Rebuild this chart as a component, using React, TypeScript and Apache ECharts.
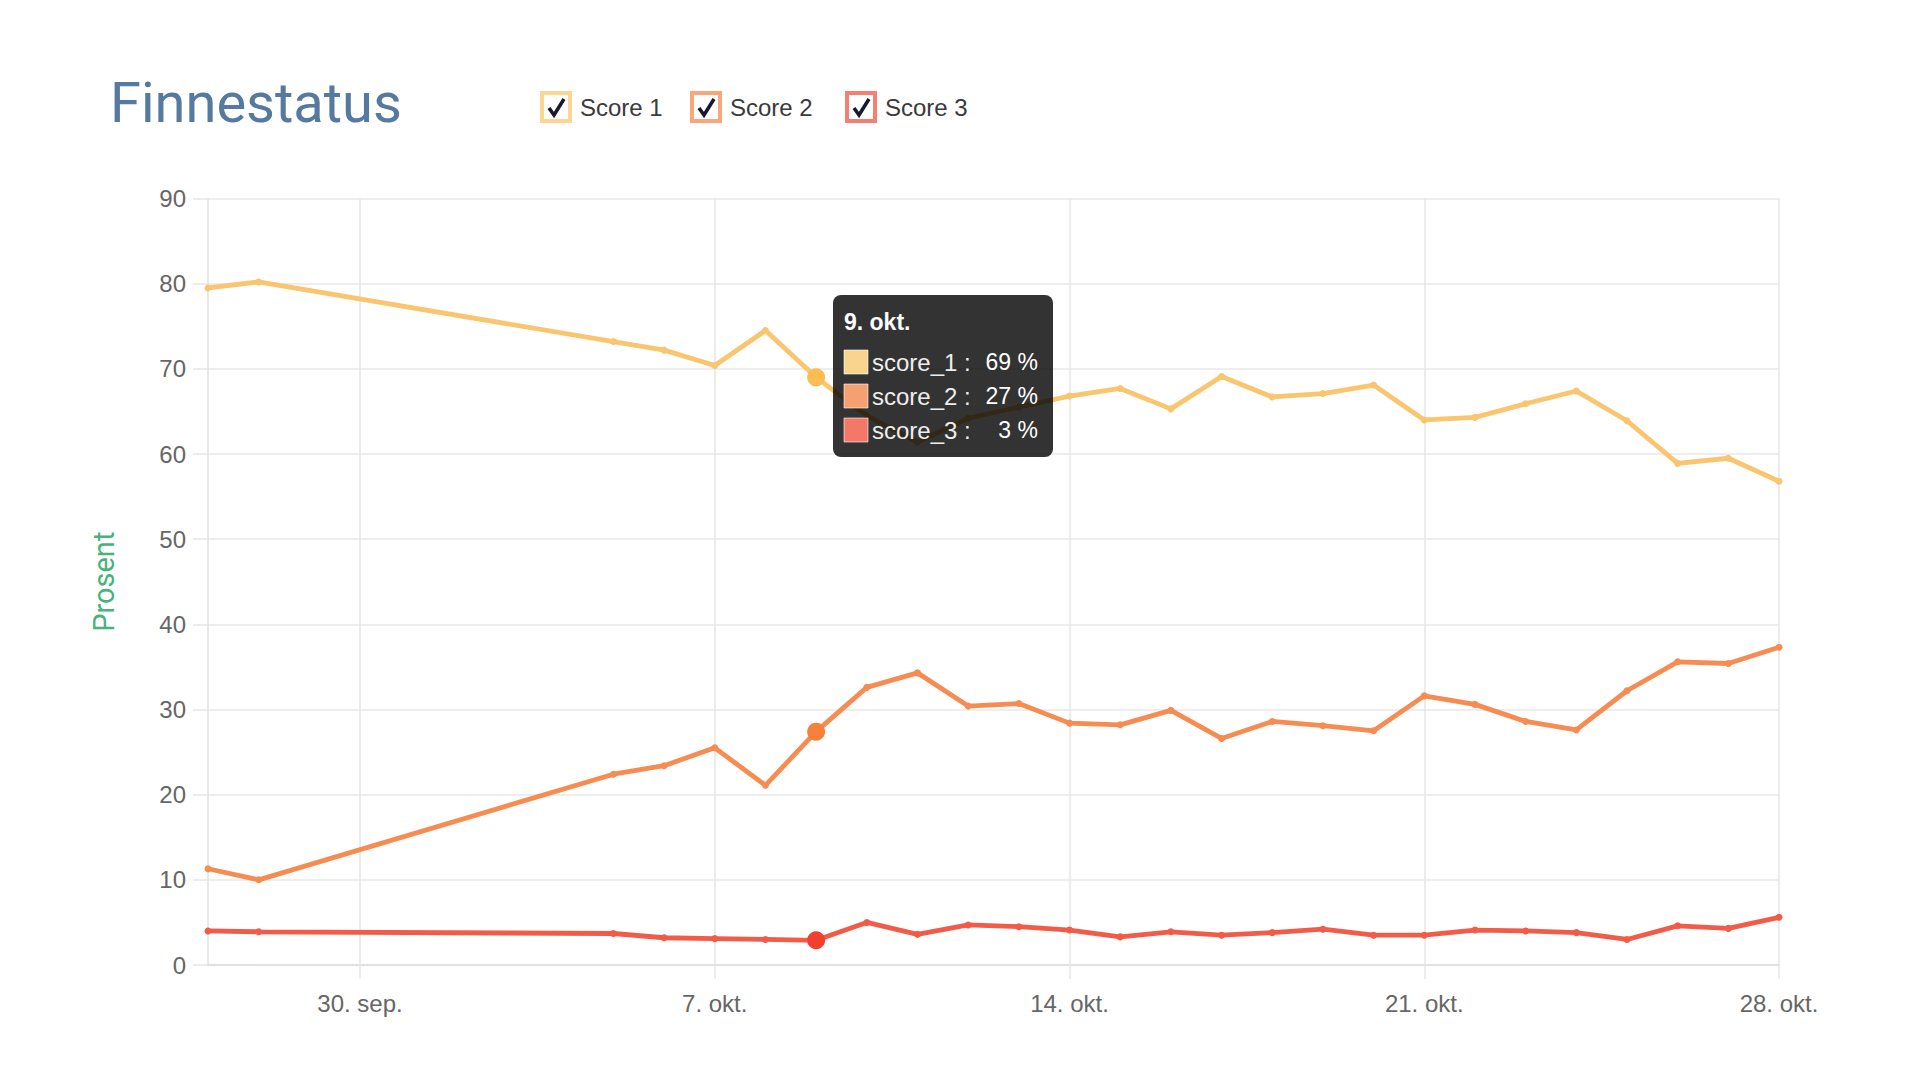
import React, { useEffect, useRef } from 'react';
import * as echarts from 'echarts';

// Dates on the category axis (27. sep. – 28. okt.)
const categories = [
  '27. sep.', '28. sep.', '29. sep.', '30. sep.',
  '1. okt.', '2. okt.', '3. okt.', '4. okt.', '5. okt.', '6. okt.', '7. okt.',
  '8. okt.', '9. okt.', '10. okt.', '11. okt.', '12. okt.', '13. okt.', '14. okt.',
  '15. okt.', '16. okt.', '17. okt.', '18. okt.', '19. okt.', '20. okt.', '21. okt.',
  '22. okt.', '23. okt.', '24. okt.', '25. okt.', '26. okt.', '27. okt.', '28. okt.',
];

// Tick labels shown on the x axis (weekly, Mondays)
const tickLabels = ['30. sep.', '7. okt.', '14. okt.', '21. okt.', '28. okt.'];

const seriesNames = ['Score 1', 'Score 2', 'Score 3'];
const tooltipNames = ['score_1', 'score_2', 'score_3'];

const score1 = [79.5, 80.2, null, null, null, null, null, null,
  73.2, 72.2, 70.4, 74.5, 69.0, 64.5, 61.4, 64.2, 65.5, 66.8, 67.7, 65.3, 69.1, 66.7,
  67.1, 68.1, 64.0, 64.3, 65.9, 67.4, 63.9, 58.9, 59.5, 56.8];
const score2 = [11.3, 10.0, null, null, null, null, null, null,
  22.4, 23.4, 25.5, 21.1, 27.4, 32.6, 34.3, 30.4, 30.7, 28.4, 28.2, 29.9, 26.6, 28.6,
  28.1, 27.5, 31.6, 30.6, 28.6, 27.6, 32.2, 35.6, 35.4, 37.3];
const score3 = [4.0, 3.9, null, null, null, null, null, null,
  3.7, 3.2, 3.1, 3.0, 2.9, 5.0, 3.6, 4.7, 4.5, 4.1, 3.3, 3.9, 3.5, 3.8,
  4.2, 3.5, 3.5, 4.1, 4.0, 3.8, 3.0, 4.6, 4.3, 5.6];

const yTicks = [0, 10, 20, 30, 40, 50, 60, 70, 80, 90];

const hoveredDate = '9. okt.';

const lineColors = ['#f9c56e', '#f68c52', '#f15b48'];
const activeColors = ['#fbbd52', '#f7803a', '#f33f2e'];
const boxColors = ['#fcd592', '#f8a77a', '#f47f72'];
const swatchColors = ['#f9d48e', '#f5a070', '#f47868'];

const FONT = '"Liberation Sans", Arial, sans-serif';

export default function App() {
  const ref = useRef<HTMLDivElement>(null);

  useEffect(() => {
    document.body.style.margin = '0';
    if (!ref.current) return;
    const chart = echarts.init(ref.current, undefined, { renderer: 'svg' });
    const hi = categories.indexOf(hoveredDate);
    const all = [score1, score2, score3];

    const series = all.map((arr, si) => ({
      name: seriesNames[si],
      type: 'line',
      data: arr.map((v, i) =>
        i === hi && v !== null
          ? { value: v, symbolSize: 18, itemStyle: { color: activeColors[si] } }
          : v
      ),
      connectNulls: true,
      symbol: 'circle',
      symbolSize: 7,
      showSymbol: true,
      lineStyle: { color: lineColors[si], width: 4.8 },
      itemStyle: { color: lineColors[si] },
      emphasis: { disabled: true },
      z: 2 + si,
    }));

    const gridTick = (i: number, v: string) => tickLabels.indexOf(v) >= 0;

    // Legend drawn as checkboxes
    const legendX = [540, 690, 845];
    const legendChildren: any[] = [];
    seriesNames.forEach((n, i) => {
      const x = legendX[i];
      legendChildren.push({
        type: 'rect',
        shape: { x: x + 2, y: 93, width: 28, height: 28 },
        style: { fill: '#ffffff', stroke: boxColors[i], lineWidth: 4 },
      });
      legendChildren.push({
        type: 'polyline',
        shape: { points: [[x + 9, 108], [x + 14, 115], [x + 24, 99]] },
        style: { stroke: '#161a2e', lineWidth: 3.5, fill: null },
      });
      legendChildren.push({
        type: 'text',
        x: x + 40,
        y: 107,
        style: {
          text: n,
          fill: '#3a3a3a',
          fontSize: 24,
          fontFamily: FONT,
          align: 'left', textAlign: 'left',
          verticalAlign: 'middle', textVerticalAlign: 'middle',
        },
      });
    });

    // Tooltip box (static, as in the reference)
    const TX = 833;
    const TY = 295;
    const tipChildren: any[] = [
      {
        type: 'rect', z: 100,
        shape: { x: TX, y: TY, width: 220, height: 162, r: 8 },
        style: { fill: 'rgba(0,0,0,0.8)' },
      },
      {
        type: 'text', z: 101,
        x: TX + 11, y: TY + 27,
        style: {
          text: hoveredDate, fill: '#ffffff', fontSize: 23, fontWeight: 'bold',
          fontFamily: FONT,
          align: 'left', textAlign: 'left', verticalAlign: 'middle', textVerticalAlign: 'middle',
        },
      },
    ];
    all.forEach((arr, i) => {
      const cy = TY + 67 + 34 * i;
      tipChildren.push({
        type: 'rect', z: 101,
        shape: { x: TX + 11, y: cy - 12, width: 24, height: 24 },
        style: { fill: swatchColors[i], stroke: 'rgba(255,255,255,0.6)', lineWidth: 1 },
      });
      tipChildren.push({
        type: 'text', z: 101,
        x: TX + 39, y: cy,
        style: {
          text: tooltipNames[i] + ' :', fill: '#eeeeee', fontSize: 24,
          fontFamily: FONT,
          align: 'left', textAlign: 'left', verticalAlign: 'middle', textVerticalAlign: 'middle',
        },
      });
      tipChildren.push({
        type: 'text', z: 101,
        x: TX + 205, y: cy,
        style: {
          text: Math.round(arr[hi] as number) + ' %', fill: '#ffffff', fontSize: 23,
          fontFamily: FONT,
          align: 'right', textAlign: 'right', verticalAlign: 'middle', textVerticalAlign: 'middle',
        },
      });
    });

    chart.setOption({
      animation: false,
      backgroundColor: '#ffffff',
      grid: { left: 208, right: 141, top: 198.5, bottom: 115, containLabel: false },
      xAxis: {
        type: 'category',
        data: categories,
        boundaryGap: false,
        axisLine: { show: true, lineStyle: { color: '#dcdcdc', width: 1.5 } },
        axisTick: { show: true, interval: gridTick, length: 14, lineStyle: { color: '#e6e6e6', width: 1.5 } },
        axisLabel: {
          show: true, interval: gridTick, color: '#666666', fontSize: 24, margin: 26,
          fontFamily: FONT,
        },
        splitLine: { show: true, interval: gridTick, lineStyle: { color: '#e6e6e6', width: 1.5 } },
      },
      yAxis: {
        type: 'value',
        min: yTicks[0],
        max: yTicks[yTicks.length - 1],
        interval: 10,
        name: 'Prosent',
        nameLocation: 'middle',
        nameGap: 90,
        nameRotate: 90,
        nameTextStyle: { color: '#47b27a', fontSize: 29, fontFamily: 'Roboto, sans-serif' },
        axisLine: { show: true, lineStyle: { color: '#e0e0e0', width: 1.5 } },
        axisTick: { show: true, length: 15, lineStyle: { color: '#e6e6e6', width: 1.5 } },
        axisLabel: {
          color: '#666666', fontSize: 24, margin: 22,
          fontFamily: FONT,
        },
        splitLine: { show: true, lineStyle: { color: '#e8e8e8', width: 1.5 } },
      },
      tooltip: { show: false },
      series,
      graphic: [
        {
          type: 'text',
          x: 110, y: 103,
          style: {
            text: 'Finnestatus', fill: '#55799f', fontSize: 56,
            fontFamily: 'Roboto, sans-serif',
            align: 'left', textAlign: 'left', verticalAlign: 'middle', textVerticalAlign: 'middle',
          },
        },
        ...legendChildren,
        ...tipChildren,
      ],
    });

    return () => chart.dispose();
  }, []);

  return (
    <div style={{ position: 'fixed', left: 0, top: 0, width: 1920, height: 1080, background: '#fff' }}>
      <div ref={ref} style={{ width: 1920, height: 1080 }} />
    </div>
  );
}
